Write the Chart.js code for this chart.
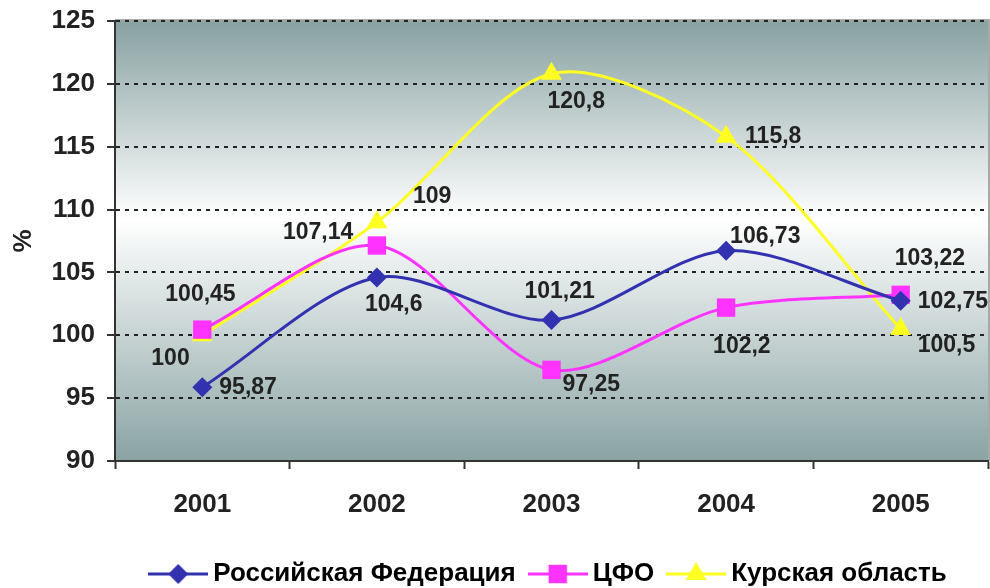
<!DOCTYPE html>
<html>
<head>
<meta charset="utf-8">
<script src="https://cdn.jsdelivr.net/npm/chart.js@4.4.0/dist/chart.umd.min.js"></script>
<style>
  html, body { margin: 0; padding: 0; background: #fff; overflow: hidden; }
  canvas { display: block; }
</style>
</head>
<body>
<canvas id="chart" width="990" height="588"></canvas>
<script>
// Data
const years = ["2001", "2002", "2003", "2004", "2005"];
const russia = [95.87, 104.6, 101.21, 106.73, 102.75];
const cfo = [100.45, 107.14, 97.25, 102.2, 103.22];
const kursk = [100, 109, 120.8, 115.8, 100.5];
const seriesNames = ["Российская Федерация", "ЦФО", "Курская область"];
const yMin = 90, yMax = 125, yStep = 5;

// Where each value label sits relative to its point: [dx, dy]
const labelOffsets = [
  [[17, 0], [-12, 27], [-27, -28], [4, -14], [17, 1]],
  [[-37, -35], [-94, -13], [11, 15], [-13, 39], [-6, -36]],
  [[-51, 23], [36, -25], [-4, 28], [19, 0], [17, 17]]
];

const FONT = "'Liberation Sans', Arial, sans-serif";
const colors = ["#3232b0", "#ff33ff", "#ffff22"];
const styles = ["rectRot", "rect", "triangle"];
const radii = [10, 13, 12];

// Small canvas with line + marker, used as legend symbol
function legendIcon(color, style, r) {
  const c = document.createElement("canvas");
  c.width = 60; c.height = 28;
  const g = c.getContext("2d");
  g.strokeStyle = color;
  g.lineWidth = 3;
  g.beginPath(); g.moveTo(0, 14); g.lineTo(60, 14); g.stroke();
  g.fillStyle = color;
  g.beginPath();
  if (style === "rectRot") {
    g.moveTo(30, 14 - r); g.lineTo(30 + r, 14); g.lineTo(30, 14 + r); g.lineTo(30 - r, 14);
  } else if (style === "rect") {
    const h = r * Math.SQRT1_2;
    g.rect(30 - h, 14 - h, 2 * h, 2 * h);
  } else {
    const s = r * Math.sqrt(3) / 2;
    g.moveTo(30, 14 - r); g.lineTo(30 + s, 14 + r / 2); g.lineTo(30 - s, 14 + r / 2);
  }
  g.closePath();
  g.fill();
  return c;
}

const plotBackground = {
  id: "plotBackground",
  beforeDraw(chart) {
    const { ctx, chartArea: a } = chart;
    const grad = ctx.createLinearGradient(0, a.top, 0, a.bottom);
    grad.addColorStop(0, "#88a1a1");
    grad.addColorStop(0.45, "#ffffff");
    grad.addColorStop(1, "#8aa3a3");
    ctx.save();
    ctx.fillStyle = grad;
    ctx.fillRect(a.left, a.top, a.right - a.left, a.bottom - a.top);
    ctx.strokeStyle = "#a8a8a8";
    ctx.lineWidth = 2;
    ctx.beginPath();
    ctx.moveTo(a.left, a.top - 1);
    ctx.lineTo(a.right + 1, a.top - 1);
    ctx.lineTo(a.right + 1, a.bottom);
    ctx.stroke();
    ctx.restore();
  }
};

const valueLabels = {
  id: "valueLabels",
  afterDatasetsDraw(chart) {
    const { ctx } = chart;
    ctx.save();
    ctx.font = "bold 23px " + FONT;
    ctx.fillStyle = "#222";
    ctx.textAlign = "left";
    ctx.textBaseline = "middle";
    chart.data.datasets.forEach((ds, si) => {
      chart.getDatasetMeta(si).data.forEach((pt, i) => {
        const [dx, dy] = labelOffsets[si][i];
        const txt = String(ds.data[i]).replace(".", ",");
        ctx.fillText(txt, pt.x + dx, pt.y + dy);
      });
    });
    ctx.restore();
  }
};

function makeSet(i, values) {
  return {
    label: seriesNames[i],
    data: values,
    borderColor: colors[i],
    backgroundColor: colors[i],
    borderWidth: 3,
    tension: 0.3,
    pointStyle: styles[i],
    pointRadius: radii[i],
    pointHoverRadius: radii[i],
    pointBorderWidth: 0,
    pointBackgroundColor: colors[i]
  };
}

new Chart(document.getElementById("chart"), {
  type: "line",
  data: {
    labels: years,
    datasets: [makeSet(0, russia), makeSet(1, cfo), makeSet(2, kursk)]
  },
  options: {
    responsive: false,
    animation: false,
    layout: { autoPadding: false, padding: { top: 21, right: 2, left: 0, bottom: -9 } },
    plugins: {
      tooltip: { enabled: false },
      legend: {
        position: "bottom",
        fullSize: false,
        labels: {
          font: { family: FONT, size: 26, weight: "bold" },
          color: "#222",
          usePointStyle: true,
          pointStyleWidth: 44,
          padding: 20,
          generateLabels(chart) {
            return chart.data.datasets.map((ds, i) => ({
              text: ds.label,
              pointStyle: legendIcon(colors[i], styles[i], radii[i]),
              fillStyle: colors[i],
              strokeStyle: colors[i],
              lineWidth: 0,
              datasetIndex: i,
              hidden: false
            }));
          }
        }
      }
    },
    scales: {
      x: {
        offset: true,
        afterFit(scale) {
          scale.height = 80;
          scale.paddingLeft = 0;
          scale.paddingRight = 0;
        },
        grid: {
          offset: true,
          drawOnChartArea: false,
          drawTicks: true,
          tickLength: 8,
          tickColor: "#333",
          tickWidth: 2
        },
        border: { display: true, color: "#333", width: 2 },
        ticks: {
          font: { family: FONT, size: 26, weight: "bold" },
          color: "#222",
          padding: 20
        }
      },
      y: {
        min: yMin,
        max: yMax,
        afterFit(scale) {
          scale.width = 115;
          scale.paddingTop = 0;
          scale.paddingBottom = 0;
        },
        ticks: {
          stepSize: yStep,
          font: { family: FONT, size: 26, weight: "bold" },
          color: "#222",
          padding: 12
        },
        grid: {
          color: "#222",
          lineWidth: 2,
          tickLength: 8,
          tickColor: "#333",
          tickWidth: 2,
          tickBorderDash: []
        },
        border: { display: true, color: "#333", width: 2, dash: [4, 5] },
        title: {
          display: true,
          text: "%",
          font: { family: FONT, size: 26, weight: "bold" },
          color: "#222",
          padding: { top: 8, bottom: 0 }
        }
      }
    }
  },
  plugins: [plotBackground, valueLabels]
});
</script>
</body>
</html>
